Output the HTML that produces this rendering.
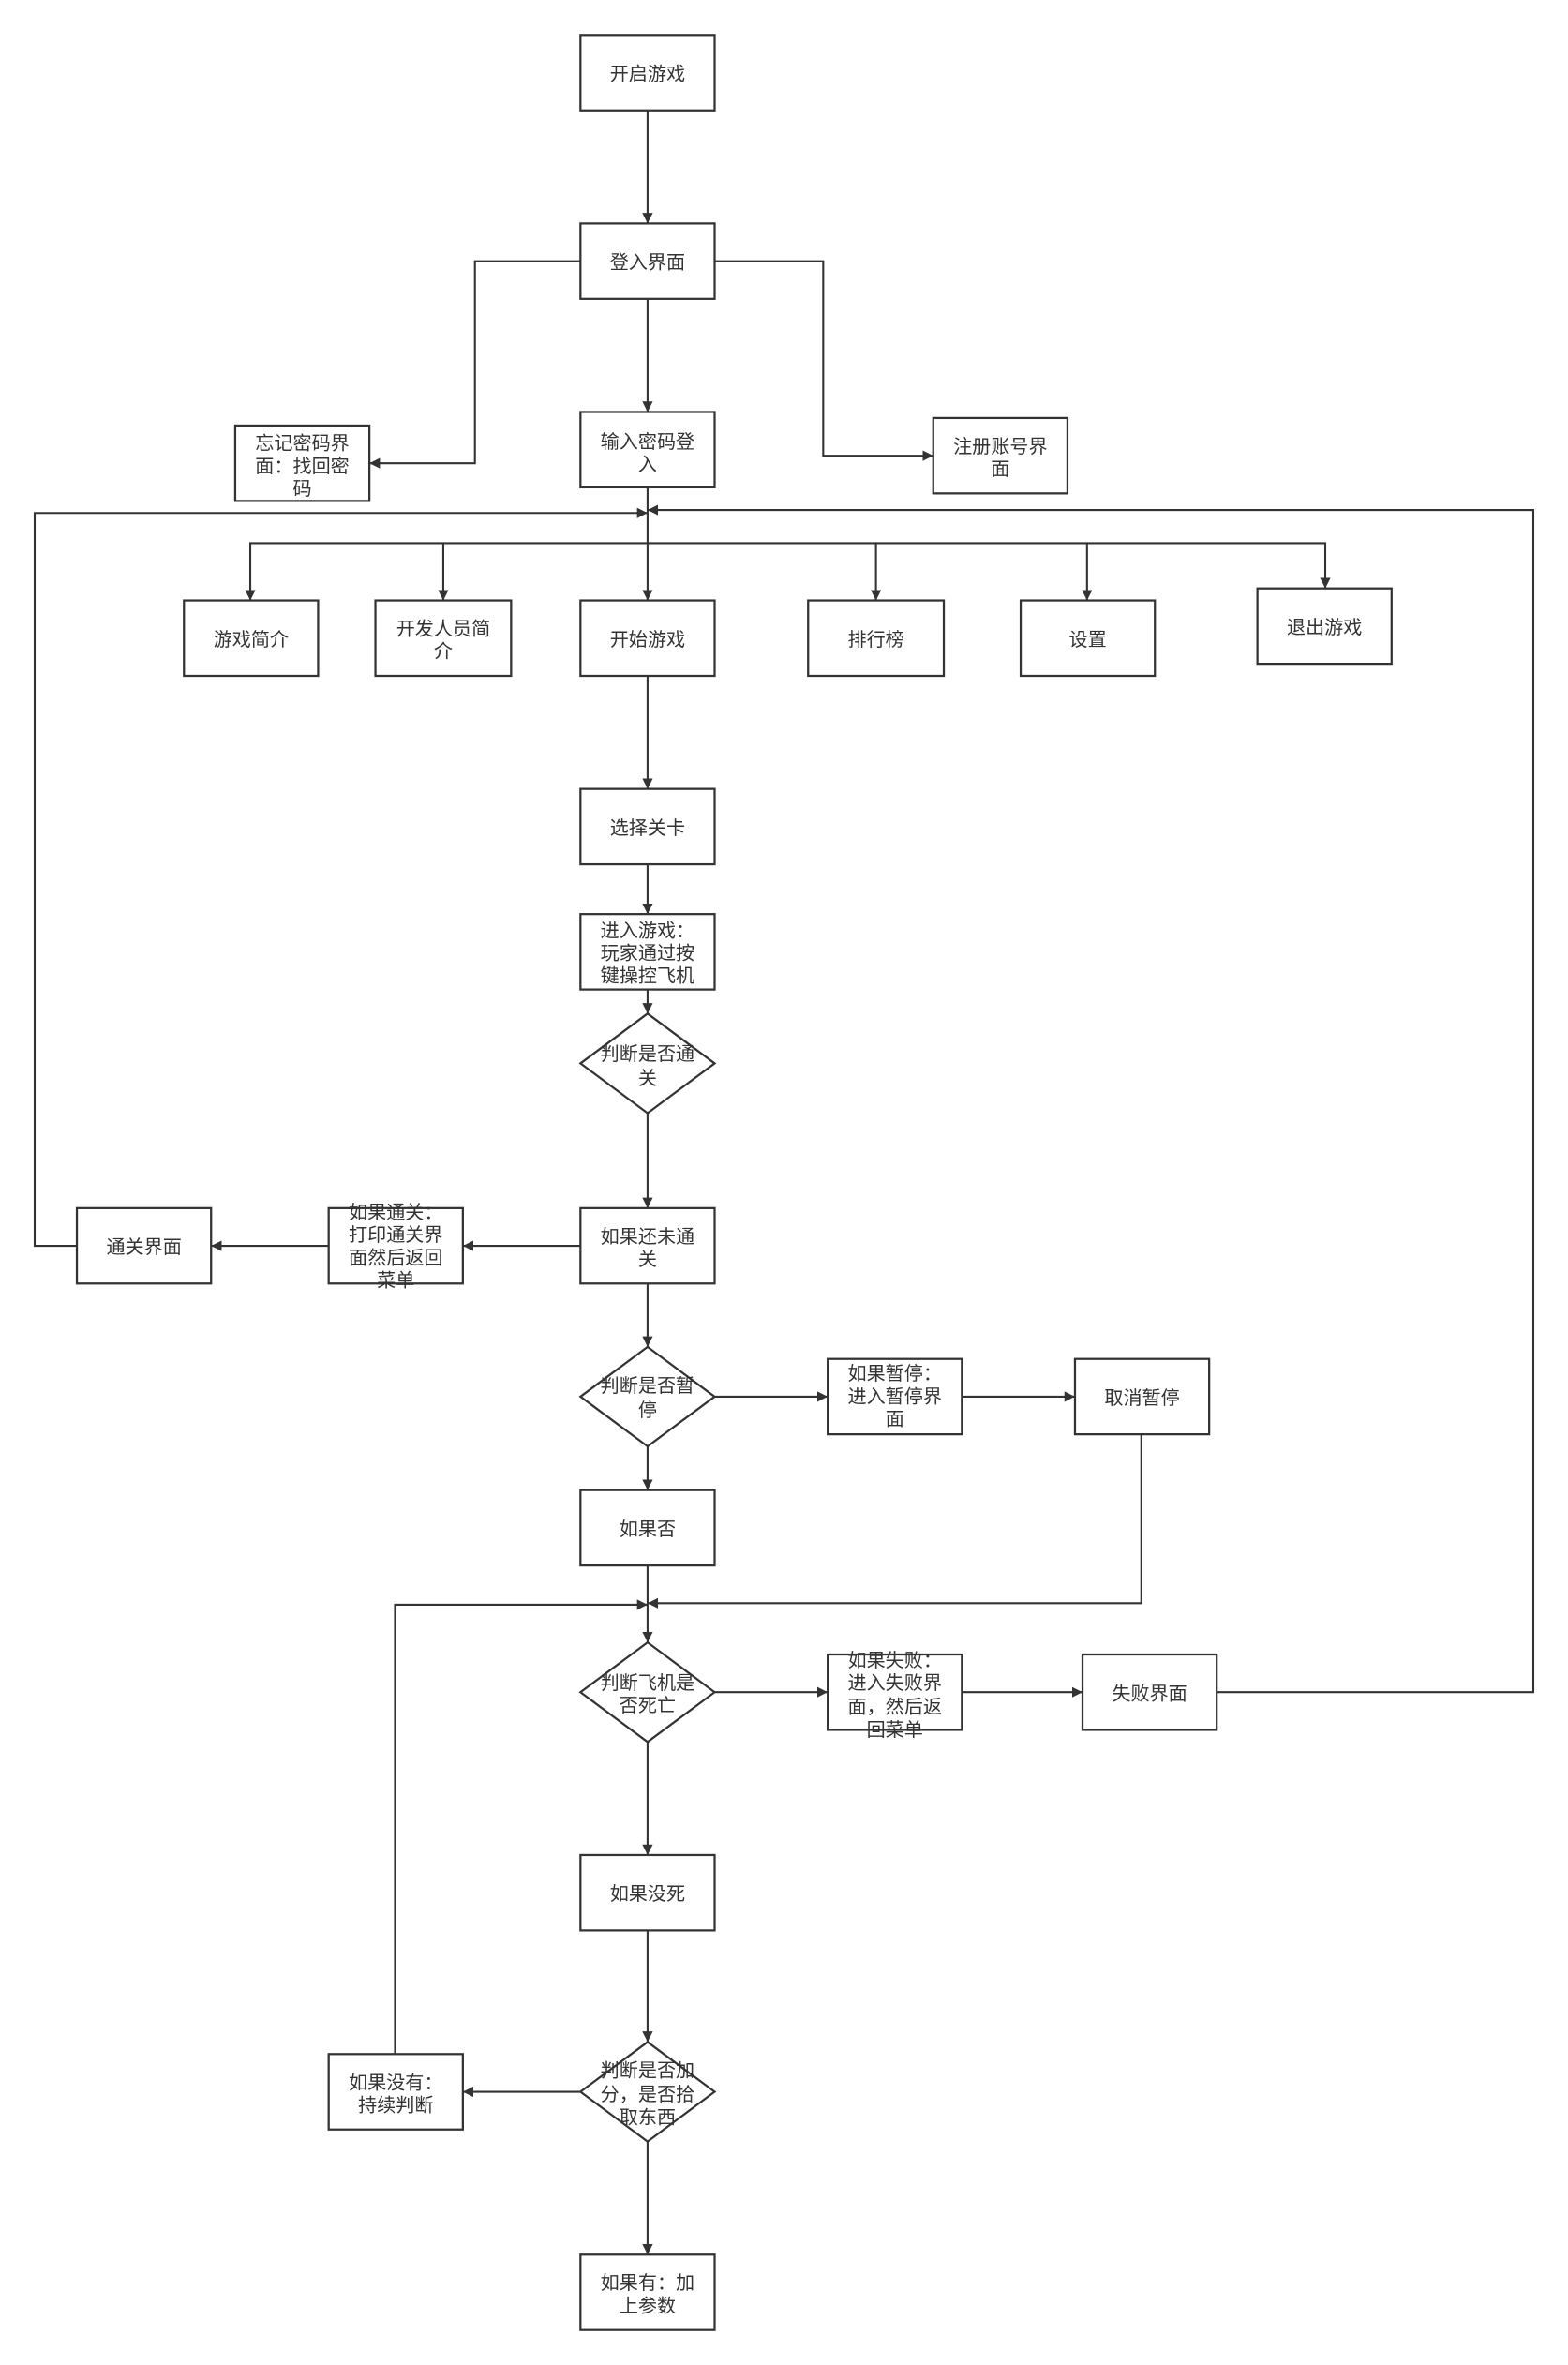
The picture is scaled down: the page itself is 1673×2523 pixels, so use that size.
<!DOCTYPE html>
<html><head><meta charset="utf-8"><style>
html,body{margin:0;padding:0;background:#fff;}
svg{display:block;}
text{font-family:"Liberation Sans","Noto Sans CJK SC",sans-serif;font-size:12.5px;fill:#333;text-anchor:middle;}
.b{fill:#fff;stroke:#333;stroke-width:1.4;}
.l{fill:none;stroke:#333;stroke-width:1.3;}
</style></head><body>
<svg width="1673" height="2523" viewBox="0 0 1040 1568" xmlns="http://www.w3.org/2000/svg">
<defs><marker id="a" viewBox="0 0 10 10" refX="10" refY="5" markerWidth="7" markerHeight="7" markerUnits="userSpaceOnUse" orient="auto"><path d="M0,0 L10,5 L0,10 z" fill="#333"/></marker></defs>
<rect width="1040" height="1568" fill="#fff"/>
<!-- connectors -->
<g class="l" marker-end="url(#a)">
<path d="M429.5,73 V148"/>
<path d="M429.5,198 V273"/>
<path d="M385,173 H315 V307 H245"/>
<path d="M474,173 H546 V302 H619"/>
<path d="M429.5,323 V360 H166 V398"/>
<path d="M294,360 V398"/>
<path d="M429.5,360 V398"/>
<path d="M429.5,360 H581 V398"/>
<path d="M581,360 H721 V398"/>
<path d="M721,360 H879 V390"/>
<path d="M429.5,448 V523"/>
<path d="M429.5,573 V606"/>
<path d="M429.5,656 V672"/>
<path d="M429.5,738 V801"/>
<path d="M385,826 H307"/>
<path d="M218,826 H140"/>
<path d="M51,826 H23 V340 H429.5"/>
<path d="M429.5,851 V893"/>
<path d="M474,926 H549"/>
<path d="M638,926 H713"/>
<path d="M429.5,959 V988"/>
<path d="M757,951 V1063 H429.5"/>
<path d="M262,1362 V1064 H429.5"/>
<path d="M429.5,1038 V1089"/>
<path d="M474,1122 H549"/>
<path d="M638,1122 H718"/>
<path d="M807,1122 H1017 V338 H429.5"/>
<path d="M429.5,1155 V1230"/>
<path d="M429.5,1280 V1354"/>
<path d="M385,1387 H307"/>
<path d="M429.5,1420 V1495"/>
</g>
<!-- nodes -->
<g class="b">
<rect x="385" y="23" width="89" height="50"/>
<rect x="385" y="148" width="89" height="50"/>
<rect x="385" y="273" width="89" height="50"/>
<rect x="156" y="282" width="89" height="50"/>
<rect x="619" y="277" width="89" height="50"/>
<rect x="122" y="398" width="89" height="50"/>
<rect x="249" y="398" width="90" height="50"/>
<rect x="385" y="398" width="89" height="50"/>
<rect x="536" y="398" width="90" height="50"/>
<rect x="677" y="398" width="89" height="50"/>
<rect x="834" y="390" width="89" height="50"/>
<rect x="385" y="523" width="89" height="50"/>
<rect x="385" y="606" width="89" height="50"/>
<path d="M429.5,672 L474,705 L429.5,738 L385,705 Z"/>
<rect x="385" y="801" width="89" height="50"/>
<rect x="218" y="801" width="89" height="50"/>
<rect x="51" y="801" width="89" height="50"/>
<path d="M429.5,893 L474,926 L429.5,959 L385,926 Z"/>
<rect x="549" y="901" width="89" height="50"/>
<rect x="713" y="901" width="89" height="50"/>
<rect x="385" y="988" width="89" height="50"/>
<path d="M429.5,1089 L474,1122 L429.5,1155 L385,1122 Z"/>
<rect x="549" y="1097" width="89" height="50"/>
<rect x="718" y="1097" width="89" height="50"/>
<rect x="385" y="1230" width="89" height="50"/>
<path d="M429.5,1354 L474,1387 L429.5,1420 L385,1387 Z"/>
<rect x="218" y="1362" width="89" height="50"/>
<rect x="385" y="1495" width="89" height="50"/>
</g>
<!-- labels -->
<text x="429.5" y="53">开启游戏</text>
<text x="429.5" y="178">登入界面</text>
<text x="429.5" y="297">输入密码登</text><text x="429.5" y="312">入</text>
<text x="200.5" y="298">忘记密码界</text><text x="200.5" y="313">面：找回密</text><text x="200.5" y="328">码</text>
<text x="663.5" y="300">注册账号界</text><text x="663.5" y="315">面</text>
<text x="166.5" y="428">游戏简介</text>
<text x="294" y="421">开发人员简</text><text x="294" y="436">介</text>
<text x="429.5" y="428">开始游戏</text>
<text x="581" y="428">排行榜</text>
<text x="721.5" y="428">设置</text>
<text x="878.5" y="420">退出游戏</text>
<text x="429.5" y="553">选择关卡</text>
<text x="429.5" y="621">进入游戏：</text><text x="429.5" y="636">玩家通过按</text><text x="429.5" y="651">键操控飞机</text>
<text x="429.5" y="703">判断是否通</text><text x="429.5" y="719">关</text>
<text x="429.5" y="824">如果还未通</text><text x="429.5" y="839">关</text>
<text x="262.5" y="808">如果通关：</text><text x="262.5" y="823">打印通关界</text><text x="262.5" y="838">面然后返回</text><text x="262.5" y="853">菜单</text>
<text x="95.5" y="831">通关界面</text>
<text x="429.5" y="923">判断是否暂</text><text x="429.5" y="939">停</text>
<text x="593.5" y="915">如果暂停：</text><text x="593.5" y="930">进入暂停界</text><text x="593.5" y="945">面</text>
<text x="757.5" y="931">取消暂停</text>
<text x="429.5" y="1018">如果否</text>
<text x="429.5" y="1120">判断飞机是</text><text x="429.5" y="1135">否死亡</text>
<text x="593.5" y="1105">如果失败：</text><text x="593.5" y="1120">进入失败界</text><text x="593.5" y="1136">面，然后返</text><text x="593.5" y="1151">回菜单</text>
<text x="762.5" y="1127">失败界面</text>
<text x="429.5" y="1260">如果没死</text>
<text x="429.5" y="1377">判断是否加</text><text x="429.5" y="1393">分，是否拾</text><text x="429.5" y="1408">取东西</text>
<text x="262.5" y="1385">如果没有：</text><text x="262.5" y="1400">持续判断</text>
<text x="429.5" y="1518">如果有：加</text><text x="429.5" y="1533">上参数</text>
</svg>
</body></html>
